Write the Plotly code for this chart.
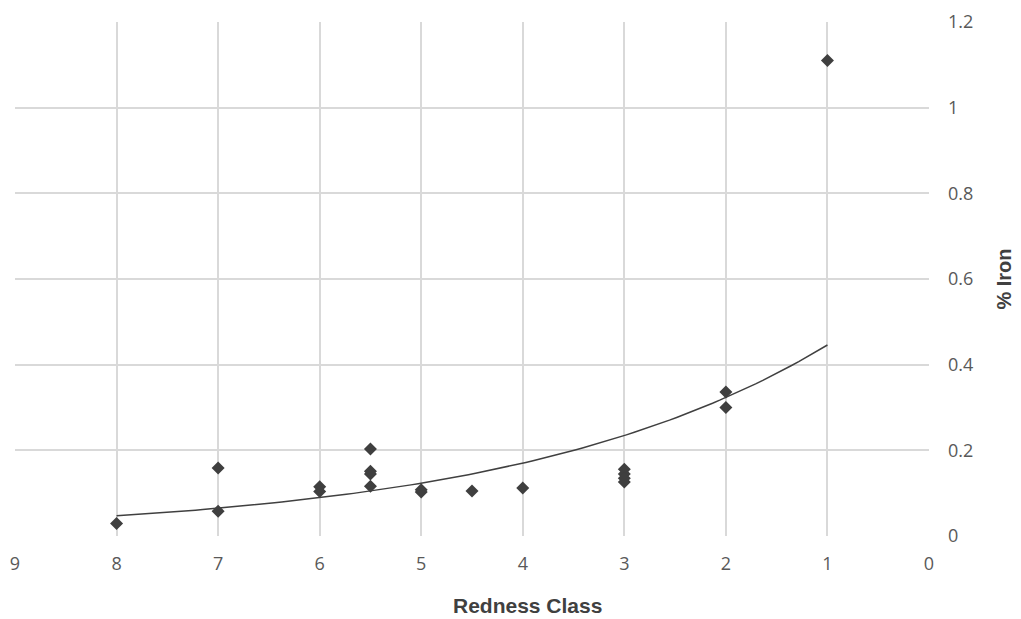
import numpy as np
import plotly.graph_objects as go

redness = [8, 7, 7, 6, 6, 5.5, 5.5, 5.5, 5.5, 5, 5, 4.5, 4, 3, 3, 3, 3, 2, 2, 1]
iron = [0.029, 0.159, 0.058, 0.115, 0.104, 0.203, 0.151, 0.145, 0.116, 0.103, 0.108,
        0.105, 0.112, 0.156, 0.145, 0.135, 0.126, 0.336, 0.300, 1.11]
x_ticks = [9, 8, 7, 6, 5, 4, 3, 2, 1, 0]
y_ticks = [0, 0.2, 0.4, 0.6, 0.8, 1, 1.2]
y_tick_labels = ["0", "0.2", "0.4", "0.6", "0.8", "1", "1.2"]

# Exponential trendline y = a * exp(b * x), as drawn in the reference
trend_a = 0.615
trend_b = -0.3214
trend_range = [8, 1]
trend_x = np.linspace(trend_range[0], trend_range[1], 100)
trend_y = trend_a * np.exp(trend_b * trend_x)

fig = go.Figure()
fig.add_trace(go.Scatter(x=trend_x, y=trend_y, mode="lines",
                         line=dict(color="#404040", width=1.5), hoverinfo="skip"))
fig.add_trace(go.Scatter(x=redness, y=iron, mode="markers",
                         marker=dict(symbol="diamond", size=10, color="#3f3f3f")))

title_font = "Liberation Sans Narrow, Arial Narrow, Liberation Sans"
# page body adds an 8px offset, so the figure is sized to fit the window
fig.update_layout(
    width=1013, height=611,
    margin=dict(l=7, r=92, t=14, b=83),
    paper_bgcolor="white", plot_bgcolor="white",
    showlegend=False,
    font=dict(family="Open Sans", color="#595959", size=19),
    xaxis=dict(range=[9, 0], tickvals=x_ticks, showgrid=True, gridcolor="#d9d9d9",
               gridwidth=1.5, zeroline=False, showline=False, ticks="",
               automargin=False, tickfont=dict(size=18), ticklabelstandoff=15),
    yaxis=dict(range=[0, 1.2], side="right", tickvals=y_ticks, ticktext=y_tick_labels,
               showgrid=True, gridcolor="#d9d9d9", gridwidth=1.5, zeroline=False,
               showline=False, ticks="", ticklabelstandoff=18, automargin=False,
               tickfont=dict(size=18),
               title=dict(text="<b>% Iron</b>", standoff=24,
                          font=dict(family=title_font, size=20, color="#404040"))),
    annotations=[dict(text="<b>Redness Class</b>", xref="paper", yref="paper",
                      x=0.561, y=-0.136, xanchor="center", yanchor="middle",
                      showarrow=False,
                      font=dict(family=title_font, size=21, color="#404040"))],
)
fig.write_html("out.html")
